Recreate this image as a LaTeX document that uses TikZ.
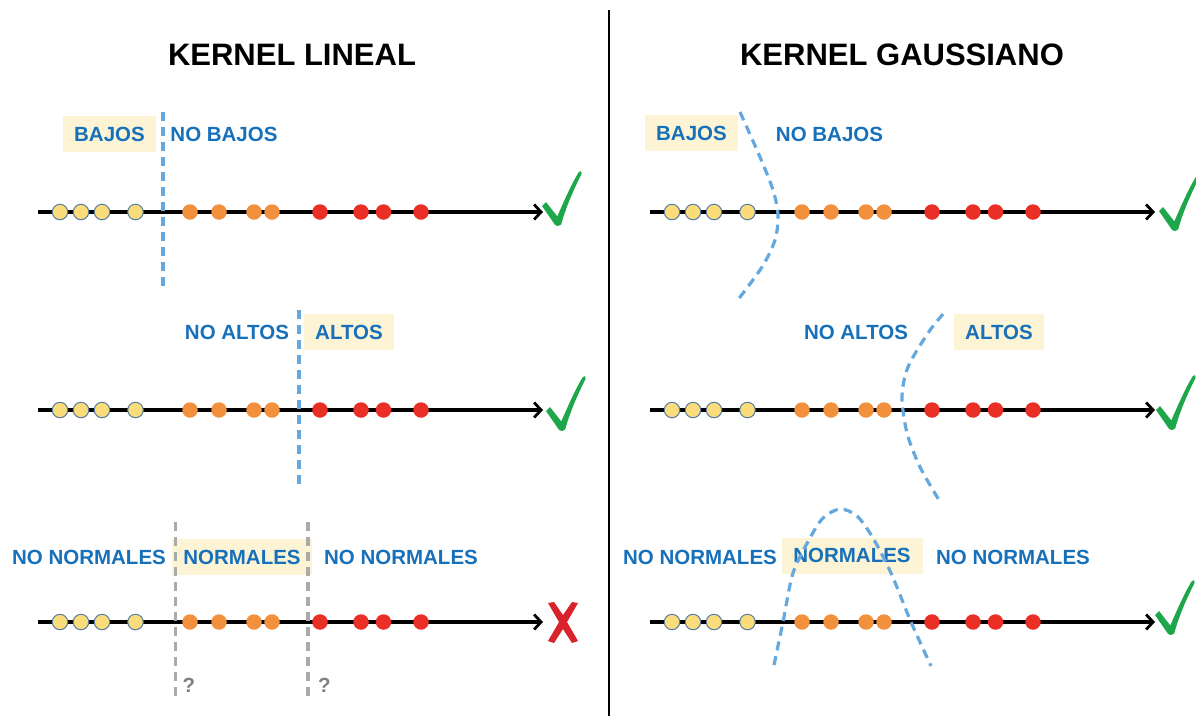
\documentclass[tikz,border=0pt]{standalone}
\usepackage{fontspec}
\setmainfont{Liberation Sans}
\usetikzlibrary{arrows.meta}

\definecolor{lblblue}{RGB}{23,112,186}
\definecolor{bndblue}{RGB}{100,168,222}
\definecolor{cream}{RGB}{252,244,213}
\definecolor{ylw}{RGB}{250,220,122}
\definecolor{ylwline}{RGB}{84,124,160}
\definecolor{org}{RGB}{241,145,62}
\definecolor{rd}{RGB}{234,48,38}
\definecolor{okgreen}{RGB}{30,166,74}
\definecolor{badred}{RGB}{216,34,44}
\definecolor{gline}{RGB}{170,170,170}
\definecolor{qgray}{RGB}{128,128,128}

\tikzset{
  ttl/.style={font=\fontsize{31}{36}\selectfont\bfseries, inner sep=0pt},
  lbl/.style={text=lblblue, font=\fontsize{20.5}{24}\selectfont\bfseries, inner sep=0pt},
  hl/.style={lbl, fill=cream, minimum height=36pt},
  qmark/.style={text=qgray, font=\fontsize{20.5}{24}\selectfont\bfseries, inner sep=0pt},
  axisline/.style={line width=3.3pt, -{Straight Barb[length=7pt,width=15pt,line width=2.8pt]}},
  ydot/.style={circle, fill=ylw, draw=ylwline, line width=1pt, minimum size=15.5pt, inner sep=0pt},
  odot/.style={circle, fill=org, minimum size=15.5pt, inner sep=0pt},
  rdot/.style={circle, fill=rd, minimum size=15.5pt, inner sep=0pt},
  bndline/.style={draw=bndblue, line width=3.2pt, dash pattern=on 9pt off 6pt},
  grayline/.style={draw=gline, line width=3.2pt, dash pattern=on 9pt off 6pt},
  okmark/.pic={
    \fill[okgreen] (-16,-17) -- (-12,-21) -- (-0.7,-6.6)
      .. controls (6,-22) and (13,-38) .. (20.5,-50.5)
      -- (23,-52) -- (23.5,-49)
      .. controls (15,-32) and (8,-16) .. (3.2,1.4)
      -- (0,3) -- (-2.8,2.1) -- cycle;
  },
  badmark/.pic={
    \fill[badred] (-15,-19) -- (-9,-20) -- (0,-7) -- (9,-20) -- (15,-19)
      -- (4,0) -- (15,19) -- (9,21) -- (0,7) -- (-9,21) -- (-15,19)
      -- (-4,0) -- cycle;
  }
}

\begin{document}
\begin{tikzpicture}[x=1pt,y=-1pt]
\useasboundingbox (0,0) rectangle (1196,716);

% panel titles and separator
\node[ttl] (tl) at (292,55) {KERNEL LINEAL};
\node[ttl] (tr) at (902,55) {KERNEL GAUSSIANO};
\coordinate (sepa) at (609,10);
\coordinate (sepb) at (609,716);
\draw[line width=2pt] (sepa) -- (sepb);

% class labels, left panel
\node[hl, minimum width=93pt] (lb1) at (109.5,134) {BAJOS};
\node[lbl] (ln1) at (224,134) {NO BAJOS};
\node[lbl] (ln2) at (237,332) {NO ALTOS};
\node[hl, minimum width=90pt] (lb2) at (349,332) {ALTOS};
\node[lbl] (ln3a) at (89,557) {NO NORMALES};
\node[hl, minimum width=140pt] (lb3) at (242,557) {NORMALES};
\node[lbl] (ln3b) at (401,557) {NO NORMALES};

% class labels, right panel
\node[hl, minimum width=93pt] (rb1) at (691.5,133) {BAJOS};
\node[lbl] (rn1) at (829.5,134) {NO BAJOS};
\node[lbl] (rn2) at (856,332) {NO ALTOS};
\node[hl, minimum width=90pt] (rb2) at (999,332) {ALTOS};
\node[lbl] (rn3a) at (700,557) {NO NORMALES};
\node[hl, minimum width=141pt] (rb3) at (852,555.5) {NORMALES};
\node[lbl] (rn3b) at (1013,557) {NO NORMALES};

% number lines with the three groups of samples
\foreach \p/\ox in {l/0, r/612} {
  \foreach \row/\y in {1/212, 2/410, 3/622} {
    \coordinate (\p\row-s) at (38+\ox,\y);
    \coordinate (\p\row-e) at (543+\ox,\y);
    \draw[axisline] (\p\row-s) -- (\p\row-e);
    \foreach \i/\x in {1/60, 2/81, 3/102, 4/135.5}
      \node[ydot] (\p\row-y\i) at (\x+\ox,\y) {};
    \foreach \i/\x in {1/190, 2/219, 3/254, 4/272}
      \node[odot] (\p\row-o\i) at (\x+\ox,\y) {};
    \foreach \i/\x in {1/320, 2/361, 3/383.5, 4/421}
      \node[rdot] (\p\row-r\i) at (\x+\ox,\y) {};
  }
}

% linear boundaries
\draw[bndline] (163,112) -- (163,290);
\draw[bndline] (299,310) -- (299,487);
\draw[grayline] (175.5,522) -- (175.5,700);
\draw[grayline] (308,522) -- (308,700);
\node[qmark] (q1) at (189,685.5) {?};
\node[qmark] (q2) at (324.5,685.5) {?};

% gaussian boundaries
\draw[bndline] plot[smooth] coordinates {(740,112) (760,157) (773,190) (778,215) (775,240) (762,267) (737,301)};
\draw[bndline] plot[smooth] coordinates {(943,314) (928,333) (908,367) (902,397) (907,433) (920,467) (939,500)};
\draw[bndline] plot[smooth] coordinates {(774,665) (783,622) (793,573) (810,538) (823,518) (840,509) (857,516) (873,538) (891,573) (911,622) (931,666)};

% outcome marks
\pic at (558,223) {okmark};
\pic at (562,428) {okmark};
\pic at (563,622) {badmark};
\pic at (1175,228) {okmark};
\pic at (1172,427) {okmark};
\pic at (1171,632) {okmark};
\end{tikzpicture}
\end{document}
